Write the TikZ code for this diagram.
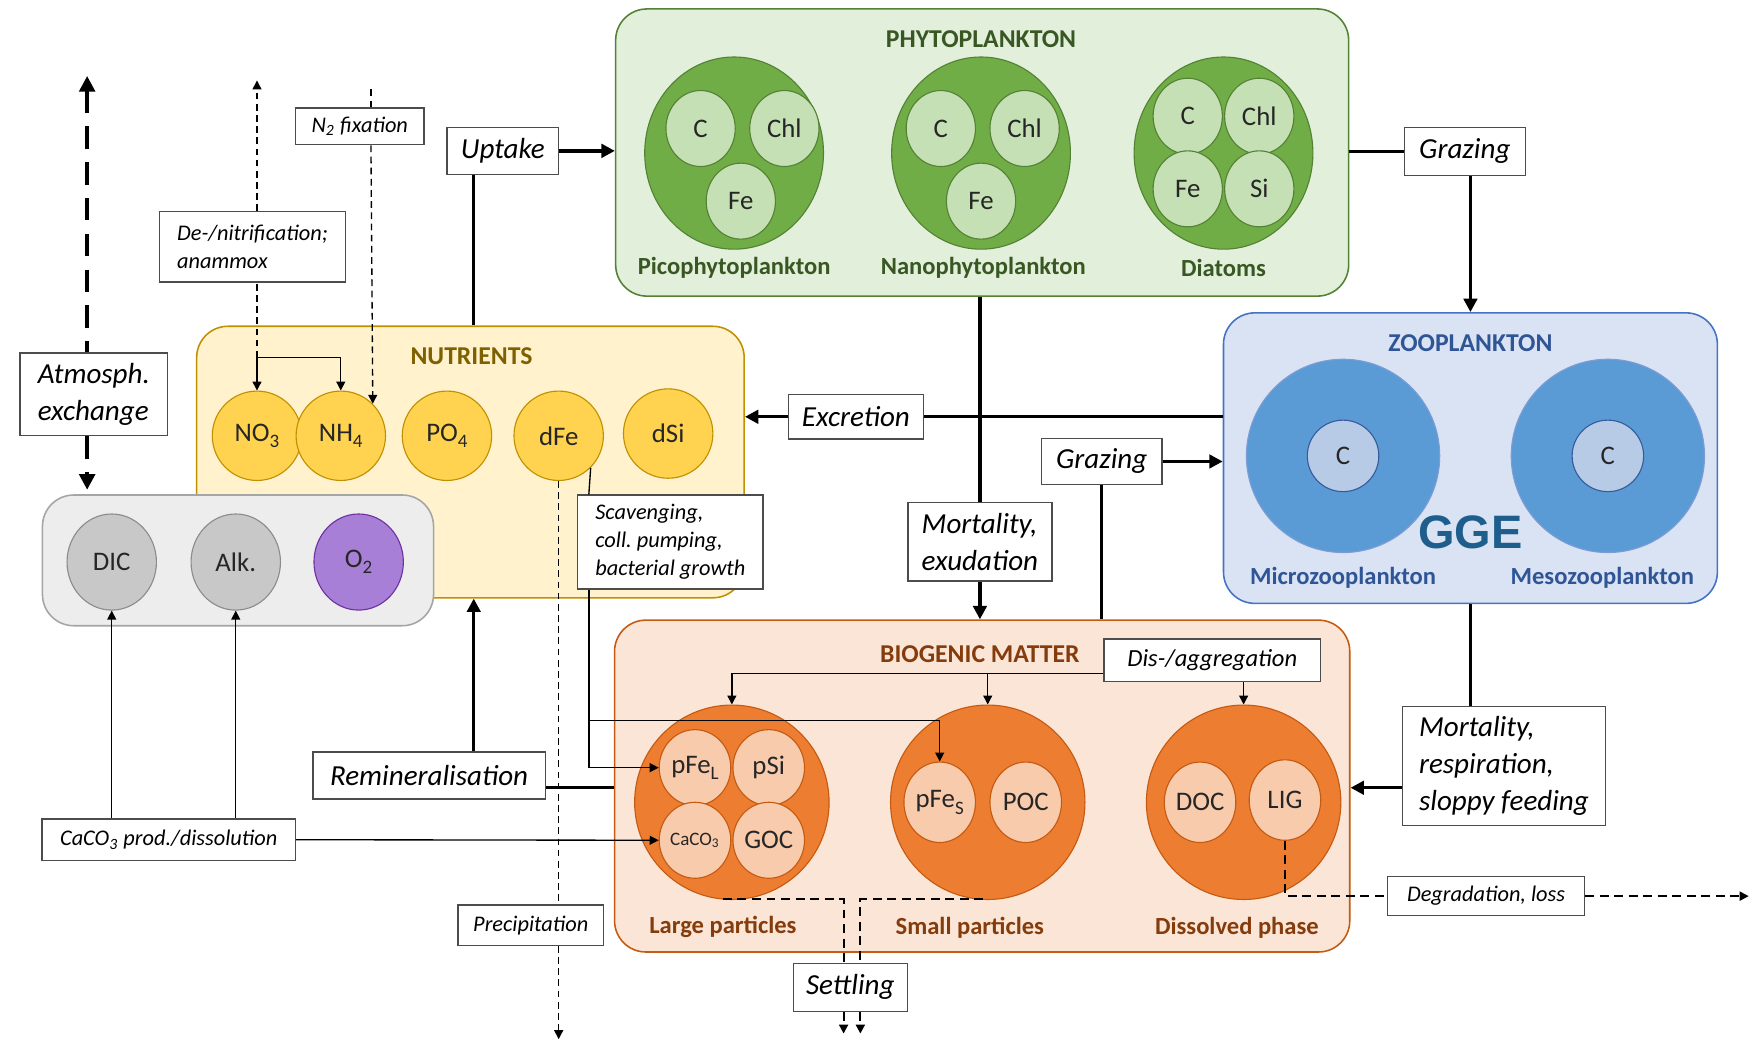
\documentclass[tikz,border=0pt]{standalone}
\usepackage{fontspec}
\setmainfont{Carlito}
\newfontfamily\ggefont{Liberation Sans}
\usetikzlibrary{arrows.meta,shapes.geometric}
\newcommand\lowsub[1]{\raisebox{-0.5ex}{\fontsize{8.5}{9}\selectfont #1}}
\definecolor{phyF}{HTML}{E2EFDA}
\definecolor{phyB}{HTML}{548235}
\definecolor{phyC}{HTML}{70AD47}
\definecolor{phyI}{HTML}{C5E0B4}
\definecolor{phyT}{HTML}{385723}
\definecolor{nutF}{HTML}{FFF2CC}
\definecolor{nutB}{HTML}{BF9000}
\definecolor{nutC}{HTML}{FFD34F}
\definecolor{nutT}{HTML}{7F6000}
\definecolor{grF}{HTML}{EDEDED}
\definecolor{grB}{HTML}{A5A5A5}
\definecolor{grC}{HTML}{C8C8C8}
\definecolor{grD}{HTML}{8C8C8C}
\definecolor{o2C}{HTML}{A77FD6}
\definecolor{o2B}{HTML}{7030A0}
\definecolor{zooF}{HTML}{DAE3F3}
\definecolor{zooB}{HTML}{4472C4}
\definecolor{zooC}{HTML}{5B9BD5}
\definecolor{zooI}{HTML}{B8CBE6}
\definecolor{zooT}{HTML}{2F5597}
\definecolor{bioF}{HTML}{FBE5D6}
\definecolor{bioB}{HTML}{C55A11}
\definecolor{bioC}{HTML}{ED7D31}
\definecolor{bioI}{HTML}{F8CBAD}
\definecolor{bioT}{HTML}{843C0C}
\definecolor{ggeC}{HTML}{1D5E8C}
\begin{document}
\begin{tikzpicture}[x=0.5pt,y=-0.5pt,
  cont/.style={rounded corners=14pt, line width=0.7pt, inner sep=0},
  ttl/.style={font=\fontsize{11.5}{13}\selectfont\bfseries},
  sub/.style={font=\fontsize{11}{13}\selectfont\bfseries},
  circ/.style={ellipse, inner sep=0, line width=0.5pt, font=\fontsize{12}{14}\selectfont, text=black!85},
  lbl/.style={draw=black!70, fill=white, line width=0.6pt, inner sep=0, align=left},
  big/.style={font=\fontsize{13}{16.5}\selectfont\itshape},
  sml/.style={font=\fontsize{10}{12.6}\selectfont\itshape},
  thk/.style={line width=1.5pt},
  thn/.style={line width=0.6pt},
  dsh/.style={line width=0.6pt, dash pattern=on 3pt off 2pt},
  dshB/.style={line width=0.9pt, dash pattern=on 4pt off 2.5pt},
  atm/.style={line width=1.6pt, dash pattern=on 10pt off 6pt},
  tipB/.style={-{Triangle[length=6pt,width=6pt]}},
  tipS/.style={-{Triangle[length=4pt,width=4pt]}}
]
\useasboundingbox (0,0) rectangle (1568,934);

% ---------- containers ----------
\node[cont, fill=nutF, draw=nutB, minimum width=245pt, minimum height=121.5pt] (nutr) at (421,413.5) {};
\node[cont, fill=grF, draw=grB, minimum width=175pt, minimum height=58.5pt] (gray) at (213,501.5) {};
\node[cont, fill=phyF, draw=phyB, minimum width=328pt, minimum height=128.5pt] (phyto) at (879,136.5) {};
\node[cont, fill=zooF, draw=zooB, minimum width=221pt, minimum height=130pt] (zoo) at (1316,410) {};
\node[cont, fill=bioF, draw=bioB, minimum width=329pt, minimum height=148.5pt] (bio) at (879,703.5) {};

% ---------- titles ----------
\node[ttl, text=phyT] (phyTitle) at (878,35) {PHYTOPLANKTON};
\node[ttl, text=nutT] (nutTitle) at (422,319) {NUTRIENTS};
\node[ttl, text=zooT] (zooTitle) at (1316,307) {ZOOPLANKTON};
\node[ttl, text=bioT] (bioTitle) at (877,585) {BIOGENIC MATTER};

% ---------- phytoplankton ----------
\tikzset{pO/.style={circ, fill=phyC, draw=phyB, minimum width=80pt, minimum height=86pt},
         pI/.style={circ, fill=phyI, draw=phyB, minimum width=31pt, minimum height=34pt}}
\node[pO] (pico) at (657,137) {};
\node[pI] (picoC) at (627,115) {C};
\node[pI] (picoChl) at (702,115) {Chl};
\node[pI] (picoFe) at (663,180) {Fe};
\node[sub, text=phyT] (picoL) at (657,240) {Picophytoplankton};
\node[pO] (nano) at (878,137) {};
\node[pI] (nanoC) at (842,115) {C};
\node[pI] (nanoChl) at (917,115) {Chl};
\node[pI] (nanoFe) at (878,180) {Fe};
\node[sub, text=phyT] (nanoL) at (880,240) {Nanophytoplankton};
\node[pO] (diat) at (1095,137) {};
\node[pI] (diatC) at (1063,104) {C};
\node[pI] (diatChl) at (1127,104) {Chl};
\node[pI] (diatFe) at (1063,169) {Fe};
\node[pI] (diatSi) at (1127,169) {Si};
\node[sub, text=phyT] (diatL) at (1095,240) {Diatoms};

% ---------- nutrients ----------
\tikzset{nC/.style={circ, fill=nutC, draw=nutB, minimum width=40pt, minimum height=40pt}}
\node[nC] (NO3) at (230,390) {NO\lowsub{3}};
\node[nC] (NH4) at (305,390) {NH\lowsub{4}};
\node[nC] (PO4) at (400,390) {PO\lowsub{4}};
\node[nC] (dFe) at (500,390) {dFe};
\node[nC] (dSi) at (598,388) {dSi};

% ---------- carbon ----------
\node[circ, fill=grC, draw=grD, minimum width=40pt, minimum height=43pt] (DIC) at (100,503) {DIC};
\node[circ, fill=grC, draw=grD, minimum width=40pt, minimum height=43pt] (Alk) at (211,503) {Alk.};
\node[circ, fill=o2C, draw=o2B, minimum width=40pt, minimum height=43pt] (O2) at (321,503) {O\lowsub{2}};

% ---------- zooplankton ----------
\node[circ, fill=zooC, draw=zooB!70, minimum width=86.5pt, minimum height=86.5pt] (micro) at (1202,408) {};
\node[circ, fill=zooI, draw=zooB!80!black, minimum width=32pt, minimum height=32pt] (microC) at (1202,408) {C};
\node[sub, text=zooT] (microL) at (1202,517) {Microzooplankton};
\node[circ, fill=zooC, draw=zooB!70, minimum width=86.5pt, minimum height=86.5pt] (meso) at (1439,408) {};
\node[circ, fill=zooI, draw=zooB!80!black, minimum width=32pt, minimum height=32pt] (mesoC) at (1439,408) {C};
\node[sub, text=zooT] (mesoL) at (1434,517) {Mesozooplankton};
\node[font=\ggefont\bfseries\fontsize{21}{21}\selectfont, text=ggeC, inner sep=0] (gge) at (1316,476) {GGE};

% ---------- biogenic ----------
\tikzset{bO/.style={circ, fill=bioC, draw=bioB, minimum width=87pt, minimum height=87pt},
         bI/.style={circ, fill=bioI, draw=bioB, minimum width=32pt, minimum height=34pt}}
\node[bO] (large) at (655,718) {};
\node[bI] (pFeL) at (622,687) {pFe\lowsub{L}};
\node[bI] (pSi) at (688,687) {pSi};
\node[bI, font=\fontsize{8.5}{10}\selectfont] (CaCO3c) at (622,752) {CaCO\textsubscript{3}};
\node[bI] (GOC) at (688,752) {GOC};
\node[sub, text=bioT] (largeL) at (647,830) {Large particles};
\node[bO] (small) at (884,718) {};
\node[bI, minimum height=36pt] (pFeS) at (841,718) {pFe\lowsub{S}};
\node[bI, minimum height=36pt] (POC) at (918,718) {POC};
\node[sub, text=bioT] (smallL) at (868,830) {Small particles};
\node[bO] (diss) at (1113,718) {};
\node[bI, minimum height=36pt] (DOC) at (1074,718) {DOC};
\node[bI, minimum height=36pt] (LIG) at (1150,716) {LIG};
\node[sub, text=bioT] (dissL) at (1107,830) {Dissolved phase};

% ---------- process labels ----------
\node[lbl, big, minimum width=50pt, minimum height=21pt] (uptake) at (450,135) {Uptake};
\node[lbl, big, minimum width=54pt, minimum height=21.5pt] (graz1) at (1311,135.5) {Grazing};
\node[lbl, sml, minimum width=57.5pt, minimum height=16.5pt] (n2fix) at (322,113) {N\textsubscript{2} fixation};
\node[lbl, sml, minimum width=83.5pt, minimum height=31.5pt] (denit) at (226,221) {De-/nitrification;\\anammox};
\node[lbl, big, minimum width=66pt, minimum height=37pt] (atmos) at (84,353) {Atmosph.\\exchange};
\node[lbl, big, minimum width=60.5pt, minimum height=20pt] (excr) at (766,373) {Excretion};
\node[lbl, big, minimum width=64.5pt, minimum height=35pt] (mortex) at (877,485) {Mortality,\\exudation};
\node[lbl, big, minimum width=54pt, minimum height=20.5pt] (graz2) at (986,413) {Grazing};
\node[lbl, sml, minimum width=83pt, minimum height=42pt] (scav) at (600,485) {Scavenging,\\coll.\ pumping,\\bacterial growth};
\node[lbl, sml, minimum width=97pt, minimum height=19pt, font=\fontsize{11}{13}\selectfont\itshape] (disagg) at (1085,591) {Dis-/aggregation};
\node[lbl, big, minimum width=104pt, minimum height=21pt] (remin) at (384,694) {Remineralisation};
\node[lbl, sml, minimum width=113.5pt, minimum height=18.5pt] (caco3) at (151,751.5) {CaCO\textsubscript{3} prod./dissolution};
\node[lbl, sml, minimum width=65pt, minimum height=18pt] (precip) at (475,828) {Precipitation};
\node[lbl, big, minimum width=51pt, minimum height=21.5pt] (settl) at (761,883.5) {Settling};
\node[lbl, big, minimum width=91pt, minimum height=53.5pt] (mortresp) at (1346,685.5) {Mortality,\\respiration,\\sloppy feeding};
\node[lbl, sml, minimum width=88pt, minimum height=17.5pt] (degr) at (1330,802) {Degradation, loss};

% ---------- helper coordinates ----------
\coordinate (ax) at (78,0);
\coordinate (atmTop) at (78,68);
\coordinate (ux) at (424,0);
\coordinate (bk) at (230,320);
\coordinate (denTop) at (230,72);
\coordinate (n2x) at (332,0);
\coordinate (n2Top) at (332,80);
\coordinate (zx) at (1316,0);
\coordinate (mry) at (0,705);
\coordinate (rmy) at (0,705);
\coordinate (dy) at (0,603);
\coordinate (sx) at (527,0);
\coordinate (sy) at (0,645);
\coordinate (precEnd) at (500,930);
\coordinate (s1) at (755,0);
\coordinate (s2) at (770,0);
\coordinate (lgS) at (647,805);
\coordinate (smS) at (880,805);
\coordinate (setEnd) at (0,925);
\coordinate (degEnd) at (1565,802);

% ---------- connectors ----------
% atmosphere exchange
\draw[atm, {Triangle[length=7pt,width=7pt]}-] (atmTop) -- (atmos.north -| ax);
\draw[atm, -{Triangle[length=7pt,width=7pt]}] (atmos.south -| ax) -- ([yshift=2pt]gray.north -| ax);
% de-/nitrification
\draw[dsh, tipS] (denit.north -| bk) -- (denTop);
\draw[dsh] (bk) -- (denit.south -| bk);
\draw[thn, tipS] (bk) -- (NO3.north);
\draw[thn, tipS] (bk) -| (NH4.north);
% N2 fixation
\draw[dsh] (n2Top) -- (n2fix.north -| n2x);
\draw[dsh, tipS] (n2fix.south -| n2x) -- (NH4.45);
% uptake
\draw[thk] (nutr.north -| ux) -- (uptake.south -| ux);
\draw[thk, tipB] (uptake.east) -- (phyto.west |- uptake.east);
% grazing phyto -> zoo
\draw[thk] (phyto.east |- graz1.west) -- (graz1.west);
\draw[thk, tipB] (graz1.south -| zx) -- (zoo.north -| zx);
% phyto mortality
\draw[thk] (phyto.south -| mortex) -- (mortex.north);
\draw[thk, tipB] (mortex.south) -- (bio.north -| mortex);
% excretion
\draw[thk] (zoo.west |- excr.east) -- (excr.east);
\draw[thk, tipB] (excr.west) -- (nutr.east |- excr.west);
% grazing on biogenic matter
\draw[thk] (bio.north -| graz2.south) -- (graz2.south);
\draw[thk, tipB] (graz2.east) -- (zoo.west |- graz2.east);
% zoo mortality
\draw[thk] (zoo.south -| zx) -- (mortresp.north -| zx);
\draw[thk, tipB] (mortresp.west |- mry) -- (bio.east |- mry);
% remineralisation
\draw[thk] (bio.west |- rmy) -- (remin.east |- rmy);
\draw[thk, tipB] (remin.north -| ux) -- (nutr.south -| ux);
% CaCO3
\draw[thn, tipS] (caco3.north -| DIC) -- (DIC.south);
\draw[thn, tipS] (caco3.north -| Alk) -- (Alk.south);
\draw[thn, tipS] (caco3.east) -- (CaCO3c.west);
% dis-/aggregation
\draw[thn, tipS] (disagg.west |- dy) -| (large.north);
\draw[thn, tipS] (dy -| small.north) -- (small.north);
\draw[thn, tipS] (disagg.south -| diss.north) -- (diss.north);
% scavenging
\draw[thn] (dFe.-45) -- (scav.north -| sx);
\draw[thn, tipS] (scav.south -| sx) |- (pFeL.west);
\draw[thn, tipS] (sx |- sy) -| (pFeS.north);
% precipitation
\draw[dsh] (dFe.south) -- (precip.north -| dFe.south);
\draw[dsh, tipS] (precip.south -| dFe.south) -- (precEnd);
% settling
\draw[dshB] (lgS) -| (settl.north -| s1);
\draw[dshB] (smS) -| (settl.north -| s2);
\draw[dshB, tipS] (settl.south -| s1) -- (setEnd -| s1);
\draw[dshB, tipS] (settl.south -| s2) -- (setEnd -| s2);
% degradation
\draw[dshB] (LIG.south) |- (degr.west);
\draw[dshB, tipS] (degr.east) -- (degEnd);
\end{tikzpicture}
\end{document}
